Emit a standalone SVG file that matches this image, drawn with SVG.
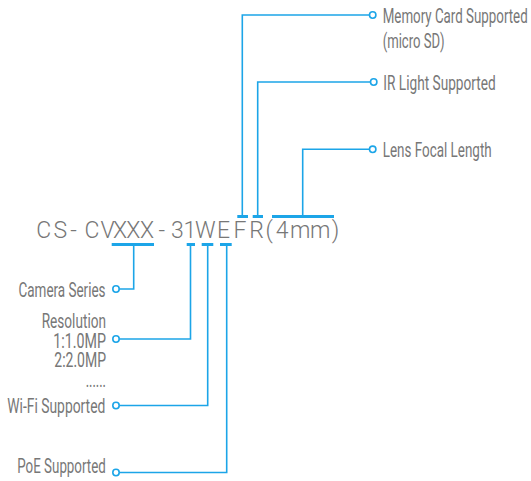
<svg xmlns="http://www.w3.org/2000/svg" width="531" height="481" viewBox="0 0 531 481">
<style>
.lbl{font-family:Roboto,"Liberation Sans",sans-serif;font-size:21px;font-weight:400;fill:#777}
.code{font-family:Roboto,"Liberation Sans",sans-serif;font-size:23px;font-weight:300;fill:#777}
.wire{fill:none;stroke:#1ca5e8;stroke-width:1.6}
.bar{fill:none;stroke:#1ca5e8;stroke-width:3}
.dot{fill:#fff;stroke:#1ca5e8;stroke-width:1.6}
</style>
<rect width="531" height="481" fill="#fff"/>
<g id="code">
<text class="code" y="238.3" x="36.2 53.5 70.2 84.5 100.4 112.9 126.2 139.9 158.6 171 183.5 195 217 233.5 249.3 265.6 275.8 290 310 331.8">CS-CVXXX-31WEFR(4mm)</text>
</g>
<g id="connectors">
<path class="bar" d="M237.3 216.5H248M252.7 216.5H263M272 216.5H334"/>
<path class="bar" d="M111.7 244.5H154M186.7 244.5H195M201.7 244.5H213.3M220 244.5H231.7"/>
<path class="wire" d="M242.3 216V15H369.5"/>
<path class="wire" d="M257.7 216V82H370.5"/>
<path class="wire" d="M302.7 216V149.3H369.5"/>
<path class="wire" d="M133.7 244V289H119.2"/>
<path class="wire" d="M190.5 244V339H119.2"/>
<path class="wire" d="M207.7 244V405.5H119.2"/>
<path class="wire" d="M226.7 244V472.5H119.2"/>
</g>
<g id="memory-card">
<circle class="dot" cx="372.7" cy="15" r="3.2"/>
<text class="lbl" transform="scale(0.64 1)" x="597.97" y="23.3" textLength="226.56" lengthAdjust="spacingAndGlyphs">Memory Card Supported</text>
<text class="lbl" transform="scale(0.7 1)" x="546.71" y="48" textLength="88.57" lengthAdjust="spacingAndGlyphs">(micro SD)</text>
</g>
<g id="ir-light">
<circle class="dot" cx="373.7" cy="82" r="3.2"/>
<text class="lbl" transform="scale(0.7 1)" x="547.57" y="90" textLength="160.57" lengthAdjust="spacingAndGlyphs">IR Light Supported</text>
</g>
<g id="lens">
<circle class="dot" cx="372.7" cy="149.3" r="3.2"/>
<text class="lbl" transform="scale(0.7 1)" x="546.71" y="157" textLength="155.71" lengthAdjust="spacingAndGlyphs">Lens Focal Length</text>
</g>
<g id="camera-series">
<circle class="dot" cx="116" cy="289" r="3.2"/>
<text class="lbl" transform="scale(0.7 1)" x="26.43" y="297.3" textLength="124.29" lengthAdjust="spacingAndGlyphs">Camera Series</text>
</g>
<g id="resolution">
<circle class="dot" cx="116" cy="339" r="3.2"/>
<text class="lbl" transform="scale(0.7 1)" x="59.57" y="328.3" textLength="91.86" lengthAdjust="spacingAndGlyphs">Resolution</text>
<text class="lbl" transform="scale(0.7 1)" x="76.14" y="347.8" textLength="75.29" lengthAdjust="spacingAndGlyphs">1:1.0MP</text>
<text class="lbl" transform="scale(0.7 1)" x="77.57" y="366.7" textLength="73.86" lengthAdjust="spacingAndGlyphs">2:2.0MP</text>
<text class="lbl" transform="scale(0.7 1)" x="122.43" y="387.3" textLength="29" lengthAdjust="spacingAndGlyphs">......</text>
</g>
<g id="wifi">
<circle class="dot" cx="116" cy="405.5" r="3.2"/>
<text class="lbl" transform="scale(0.7 1)" x="10.43" y="412.7" textLength="140" lengthAdjust="spacingAndGlyphs">Wi-Fi Supported</text>
</g>
<g id="poe">
<circle class="dot" cx="116" cy="472.5" r="3.2"/>
<text class="lbl" transform="scale(0.7 1)" x="24.71" y="473.3" textLength="126.43" lengthAdjust="spacingAndGlyphs">PoE Supported</text>
</g>
</svg>
